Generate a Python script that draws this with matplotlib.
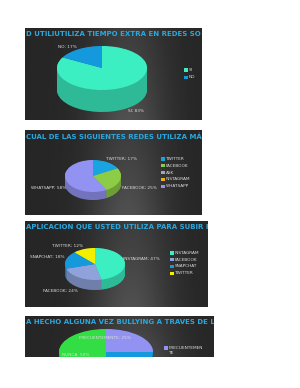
import matplotlib
matplotlib.use('Agg')
import matplotlib.pyplot as plt
import numpy as np
from matplotlib.colors import to_rgb
from matplotlib.patches import Rectangle

W, H = 300, 388

# chart 1
c1_title = 'D UTILIUTILIZA TIEMPO EXTRA EN REDES SO'
c1_labels = ['SI', 'NO']
c1_values = [83, 17]
c1_colors = ['#3cefc2', '#1599dd']

# chart 2
c2_title = 'CUAL DE LAS SIGUIENTES REDES UTILIZA MÁ'
c2_labels = ['TWITTER', 'FACEBOOK', 'ASK', 'INSTAGRAM', 'WHATSAPP']
c2_values = [17, 25, 0, 0, 58]
c2_colors = ['#17a4e0', '#8ccc46', '#a4a4b4', '#e8b020', '#9292f2']

# chart 3
c3_title = 'APLICACION QUE USTED UTILIZA PARA SUBIR F'
c3_labels = ['INSTAGRAM', 'FACEBOOK', 'SNAPCHAT', 'TWITTER']
c3_values = [47, 24, 18, 12]
c3_colors = ['#3cefc2', '#8fa2dc', '#1599dd', '#f2f000']

# chart 4 (cut off at the bottom of the page)
c4_title = 'A HECHO ALGUNA VEZ BULLYING A TRAVES DE L'
c4_labels = ['FRECUENTEMENTE', 'A VECES', 'NUNCA']
c4_values = [25, 25, 50]
c4_colors = ['#9292f2', '#1599dd', '#33dd44']

fig = plt.figure(figsize=(W / 100, H / 100), dpi=100)
fig.patch.set_facecolor('white')


def px_axes(x0, y0, x1, y1):
    # axes from pixel box (y measured from top)
    return fig.add_axes([x0 / W, 1 - y1 / H, (x1 - x0) / W, (y1 - y0) / H])


def fx(x):
    return x / W


def fy(y):
    return 1 - y / H


def panel(box, title):
    ax = px_axes(*box)
    xs = np.linspace(0, 1, 200)
    ys = np.linspace(0, 1, 60)
    gx, gy = np.meshgrid(xs, ys)
    glow = np.exp(-((gx - 0.58) / 0.22) ** 2) * (0.75 - 0.35 * gy)
    val = 0.15 + 0.22 * glow
    ax.imshow(val, cmap='gray', vmin=0, vmax=1, extent=(0, 1, 0, 1),
              aspect='auto', origin='lower')
    ax.set_xlim(0, 1)
    ax.set_ylim(0, 1)
    ax.axis('off')
    hpx = box[3] - box[1]
    ax.text(0.003, 1 - 6.5 / hpx, title, transform=ax.transAxes, ha='left',
            va='center', color='#2aa8de', fontsize=5.05, fontweight='bold',
            clip_on=True)
    return ax


def pie3d(box, values, colors, depth, ylow=None):
    ax = px_axes(*box)
    dark = [tuple(c * 0.78 for c in to_rgb(col)) for col in colors]
    for t in np.linspace(depth, 0.02, 25):
        ax.pie(values, colors=dark, startangle=90, counterclock=False,
               center=(0, -t), radius=1, wedgeprops=dict(linewidth=0))
    wedges, _ = ax.pie(values, colors=colors, startangle=90,
                       counterclock=False, center=(0, 0), radius=1,
                       wedgeprops=dict(linewidth=0))
    for p in ax.patches:
        p.set_clip_on(True)
        p.set_clip_box(ax.bbox)
    ax.set_aspect('auto')
    ax.set_xlim(-1, 1)
    ax.set_ylim(-1 - depth if ylow is None else ylow, 1)
    ax.axis('off')
    return wedges


def label(x, y, s, ha='center'):
    fig.text(fx(x), fy(y), s, ha=ha, va='center', color='#dcdcdc',
             fontsize=3.1)


def legend(x, y0, step, labels, colors):
    for i, (lab, col) in enumerate(zip(labels, colors)):
        y = y0 + i * step
        fig.patches.append(Rectangle((fx(x - 1.6), fy(y + 1.6)), 3.2 / W,
                                     3.2 / H, transform=fig.transFigure,
                                     facecolor=col, edgecolor='none'))
        fig.text(fx(x + 3), fy(y), lab, ha='left', va='center',
                 color='#dcdcdc', fontsize=3.1)


# ---- chart 1
panel((25, 28, 202, 120), c1_title)
pie3d((57, 46, 147, 112), c1_values, c1_colors, 1.0)
label(67, 47, f'{c1_labels[1]}; {c1_values[1]}%')
label(136, 111, f'{c1_labels[0]}; {c1_values[0]}%')
legend(186, 70, 7.5, c1_labels, c1_colors)

# ---- chart 2
panel((25, 130, 202, 215), c2_title)
pie3d((65, 160, 121, 200), c2_values, c2_colors, 0.5)
label(121, 159, f'{c2_labels[0]}; {c2_values[0]}%')
label(139, 188, f'{c2_labels[1]}; {c2_values[1]}%')
label(49, 188, f'{c2_labels[4]}; {c2_values[4]}%')
legend(163, 159, 6.8, c2_labels, c2_colors)

# ---- chart 3
panel((25, 221, 208, 307), c3_title)
pie3d((65, 248, 125, 290), c3_values, c3_colors, 0.625)
label(68, 246, f'{c3_labels[3]}; {c3_values[3]}%')
label(47, 257, f'{c3_labels[2]}; {c3_values[2]}%')
label(141, 259, f'{c3_labels[0]}; {c3_values[0]}%')
label(60, 291, f'{c3_labels[1]}; {c3_values[1]}%')
legend(172, 253, 6.7, c3_labels, c3_colors)

# ---- chart 4
panel((25, 316, 214, 357), c4_title)
pie3d((59, 329, 153, 357), c4_values, c4_colors, 0.6, ylow=-5 / 23)
label(105, 338, f'{c4_labels[0]}; {c4_values[0]}%')
label(76, 355, f'{c4_labels[2]}; {c4_values[2]}%')
fig.patches.append(Rectangle((fx(164.4), fy(349.6)), 3.2 / W, 3.2 / H,
                             transform=fig.transFigure,
                             facecolor=c4_colors[0], edgecolor='none'))
fig.text(fx(169), fy(350.5), 'FRECUENTEMEN\nTE', ha='left', va='center',
         color='#dcdcdc', fontsize=3.1, linespacing=1.1)

fig.savefig('out.png', dpi=100)
